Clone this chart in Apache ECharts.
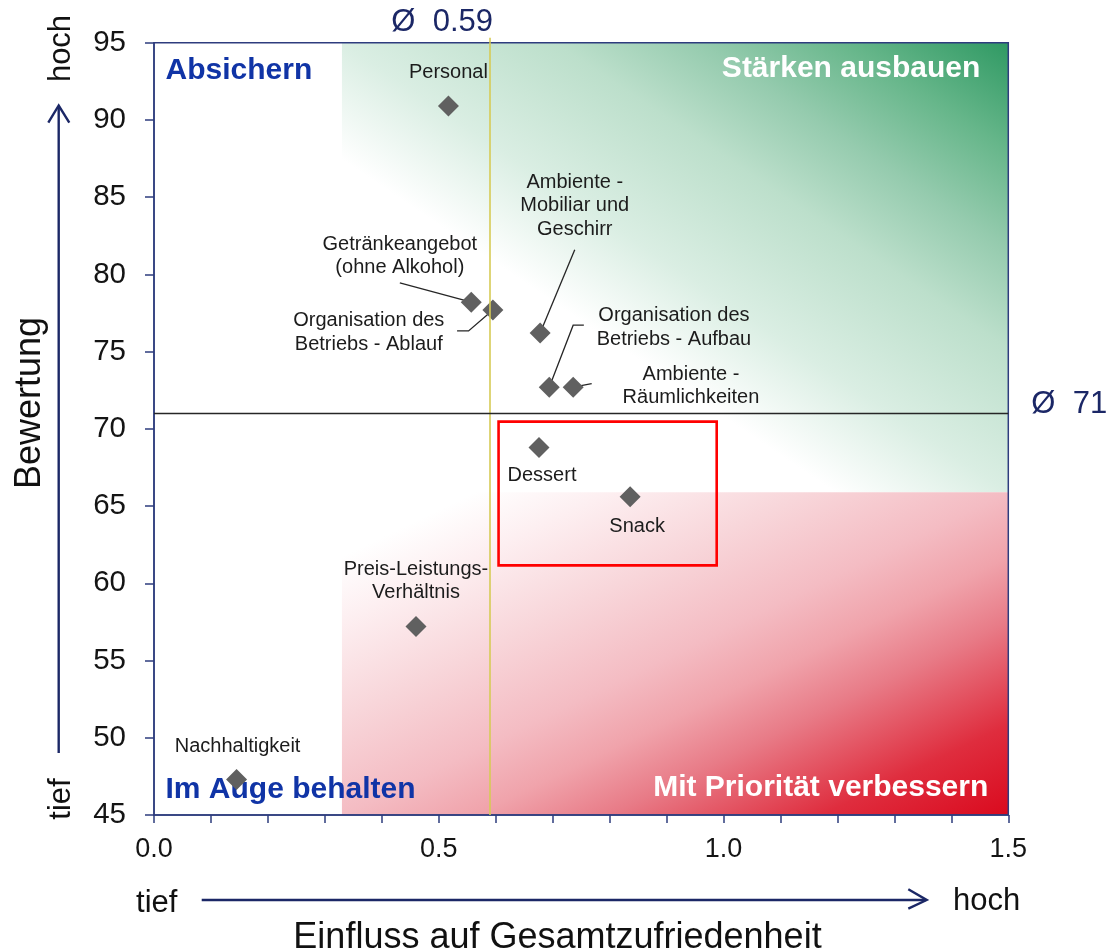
<!DOCTYPE html>
<html>
<head>
<meta charset="utf-8">
<script src="https://cdn.jsdelivr.net/npm/echarts@6/dist/echarts.min.js"></script>
<style>
  html, body { margin: 0; padding: 0; background: #ffffff; }
  #chart { width: 1109px; height: 952px; }
</style>
</head>
<body>
<div id="chart"></div>
<script>
// Portfolio data: influence on overall satisfaction (x) vs. rating (y)
const itemNames = [
  'Personal',
  'Getränkeangebot\n(ohne Alkohol)',
  'Organisation des\nBetriebs - Ablauf',
  'Ambiente -\nMobiliar und\nGeschirr',
  'Organisation des\nBetriebs - Aufbau',
  'Ambiente -\nRäumlichkeiten',
  'Dessert',
  'Snack',
  'Preis-Leistungs-\nVerhältnis',
  'Nachhaltigkeit'
];
const influence = [0.517, 0.557, 0.595, 0.678, 0.694, 0.736, 0.676, 0.836, 0.460, 0.145];
const rating    = [90.9, 78.2, 77.7, 76.2, 72.7, 72.7, 68.8, 65.6, 57.2, 47.3];

const avgInfluence = 0.59;
const avgRating = 71;

const xLabelledTicks = [0.0, 0.5, 1.0, 1.5];
const yTickValues = [45, 50, 55, 60, 65, 70, 75, 80, 85, 90, 95];

const quadrantNames = ['Absichern', 'Stärken ausbauen', 'Im Auge behalten', 'Mit Priorität verbessern'];
const axisTitles = ['Einfluss auf Gesamtzufriedenheit', 'Bewertung'];
const scaleWords = ['tief', 'hoch'];

// shaded zones (data units) and the highlighted group
const zoneXRange = [0.33, 1.5];
const zoneSplit = 65.9;
const focusBox = [[0.605, 70.47], [0.988, 61.16]];

// ---- styling -------------------------------------------------------------
const FONT = '"Liberation Sans", Arial, sans-serif';
const NAVY = '#2E3C7E';
const DARK_NAVY = '#1B2766';
const QUAD_BLUE = '#1034A6';

// label centre relative to its marker, in pixels
const labelOffsets = [
  [0, -33.5], [-71.4, -46.2], [-124.1, 22.7], [34.6, -127.2], [124.7, -59.7],
  [117.8, -1.4], [3, 28.3], [7, 30], [0, -45.6], [1, -32.6]
];
// leader lines relative to the marker, in pixels (null = none)
const leaderLines = [
  null,
  [[-71.4, -19.4], [0, 0]],
  [[-35.8, 21], [-24.3, 21], [0, 0]],
  [[34.6, -83.4], [0, 0]],
  [[34.6, -62], [23.9, -62], [0, 0]],
  [[0, 0], [18.5, -3.5]],
  null, null, null, null
];

const points = itemNames.map((n, i) => ({
  name: n,
  value: [influence[i], rating[i]],
  label: { offset: labelOffsets[i] }
}));

const chart = echarts.init(document.getElementById('chart'), null, { renderer: 'canvas' });

function isHalfStep(v) {
  return Math.abs(v * 2 - Math.round(v * 2)) < 1e-6;
}

const option = {
  animation: false,
  backgroundColor: '#ffffff',
  grid: {
    left: 154, right: 100.7, top: 42.7, bottom: 137,
    show: true, borderColor: NAVY, borderWidth: 1.5, backgroundColor: 'transparent',
    z: 3, outerBoundsMode: 'none'
  },
  xAxis: {
    type: 'value', min: 0, max: 1.5, interval: 0.1, z: 3,
    axisLine: { show: true, lineStyle: { color: NAVY, width: 1.5 } },
    axisTick: { show: true, length: 8, lineStyle: { color: NAVY, width: 1.5 } },
    splitLine: { show: false },
    axisLabel: {
      margin: 21, fontSize: 27, fontFamily: FONT, color: '#141414',
      formatter: v => (isHalfStep(v) && xLabelledTicks.some(t => Math.abs(t - v) < 1e-6)) ? v.toFixed(1) : ''
    }
  },
  yAxis: {
    type: 'value', min: yTickValues[0], max: yTickValues[yTickValues.length - 1], interval: 5, z: 3,
    axisLine: { show: true, lineStyle: { color: NAVY, width: 1.5 } },
    axisTick: { show: true, length: 9, lineStyle: { color: NAVY, width: 1.5 } },
    splitLine: { show: false },
    axisLabel: { margin: 28, fontSize: 29.5, fontFamily: FONT, color: '#141414' }
  },
  series: [{
    type: 'scatter',
    z: 10,
    symbol: 'diamond',
    symbolSize: 21,
    itemStyle: { color: '#606060', opacity: 1 },
    emphasis: { disabled: true },
    label: {
      show: true, position: 'inside', formatter: '{b}',
      color: '#1c1c1c', fontSize: 20, fontFamily: FONT, lineHeight: 23.5,
      align: 'center', verticalAlign: 'middle', textBorderWidth: 0
    },
    data: points,
    markLine: {
      silent: true, symbol: 'none', z: 12, animation: false,
      label: { show: false },
      data: [
        { xAxis: avgInfluence, lineStyle: { color: '#D6CB55', width: 1.6, type: 'solid', opacity: 1 } },
        { yAxis: avgRating, lineStyle: { color: '#262626', width: 1.3, type: 'solid', opacity: 1 } }
      ]
    }
  }]
};

chart.setOption(option);

// ---- zones, annotations and axis decorations, placed through the grid scale ----
const toPx = (x, y) => chart.convertToPixel({ gridIndex: 0 }, [x, y]);

// diagonal gradient whose iso-lines follow the rectangle's diagonal
function diagonalGradient(w, h, fromTopRight, stops) {
  const k = 2 / (h / w + w / h);
  if (fromTopRight) {
    return new echarts.graphic.LinearGradient(1, 0, 1 - k * h / w, k * w / h, stops);
  }
  return new echarts.graphic.LinearGradient(0, 0, k * h / w, k * w / h, stops);
}

const pTopLeft = toPx(zoneXRange[0], 95);
const pSplitRight = toPx(zoneXRange[1], zoneSplit);
const pBottom = toPx(zoneXRange[1], 45);
const zoneW = pSplitRight[0] - pTopLeft[0];
const greenH = pSplitRight[1] - pTopLeft[1];
const redH = pBottom[1] - pSplitRight[1];

const greenFill = diagonalGradient(zoneW, greenH, true, [
  { offset: 0, color: '#2F9963' },
  { offset: 0.12, color: '#66B68A' },
  { offset: 0.23, color: '#95CBAE' },
  { offset: 0.34, color: '#BCDFCB' },
  { offset: 0.5, color: '#DAEEE3' },
  { offset: 0.63, color: '#FFFFFF' },
  { offset: 1, color: '#FFFFFF' }
]);
const redFill = diagonalGradient(zoneW, redH, false, [
  { offset: 0, color: '#FFFFFF' },
  { offset: 0.1, color: '#FFFFFF' },
  { offset: 0.2, color: '#FDEFF1' },
  { offset: 0.35, color: '#F8D6DA' },
  { offset: 0.5, color: '#F4BCC3' },
  { offset: 0.6, color: '#F0A3AB' },
  { offset: 0.7, color: '#E87B87' },
  { offset: 0.86, color: '#DF2D3E' },
  { offset: 1, color: '#DA0A1E' }
]);

const graphics = [];

// leader lines
points.forEach((p, i) => {
  const seg = leaderLines[i];
  if (!seg) return;
  const c = toPx(p.value[0], p.value[1]);
  graphics.push({
    type: 'polyline', z: 5, silent: true,
    shape: { points: seg.map(d => [c[0] + d[0], c[1] + d[1]]) },
    style: { stroke: '#262626', lineWidth: 1.3, fill: null }
  });
});

// average line tops out slightly above the frame
const vTop = toPx(avgInfluence, 95);
graphics.push({
  type: 'line', z: 5, silent: true,
  shape: { x1: vTop[0], y1: vTop[1] - 5, x2: vTop[0], y2: vTop[1] },
  style: { stroke: '#D6CB55', lineWidth: 1.6 }
});

// average value labels
graphics.push({
  type: 'text', z: 6, silent: true, x: vTop[0] + 3, y: vTop[1] - 20.5,
  style: { text: 'Ø  ' + avgInfluence.toFixed(2), fill: DARK_NAVY, font: '31px ' + FONT, align: 'right', verticalAlign: 'middle' }
});
const hRight = toPx(1.5, avgRating);
graphics.push({
  type: 'text', z: 6, silent: true, x: hRight[0] + 23, y: hRight[1] - 8.5,
  style: { text: 'Ø  ' + avgRating, fill: DARK_NAVY, font: '31px ' + FONT, align: 'left', verticalAlign: 'middle' }
});

// quadrant captions
const gTL = toPx(0, 95), gBR = toPx(1.5, 45);
const quadFont = 'bold 30px ' + FONT;
graphics.push(
  { type: 'text', z: 6, silent: true, x: gTL[0] + 11.5, y: gTL[1] + 28,
    style: { text: quadrantNames[0], fill: QUAD_BLUE, font: quadFont, align: 'left', verticalAlign: 'middle' } },
  { type: 'text', z: 6, silent: true, x: gBR[0] - 28, y: gTL[1] + 26,
    style: { text: quadrantNames[1], fill: '#FFFFFF', font: quadFont, align: 'right', verticalAlign: 'middle' } },
  { type: 'text', z: 6, silent: true, x: gTL[0] + 11.5, y: gBR[1] - 25,
    style: { text: quadrantNames[2], fill: QUAD_BLUE, font: quadFont, align: 'left', verticalAlign: 'middle' } },
  { type: 'text', z: 6, silent: true, x: gBR[0] - 20, y: gBR[1] - 27,
    style: { text: quadrantNames[3], fill: '#FFFFFF', font: quadFont, align: 'right', verticalAlign: 'middle' } }
);

// axis titles and low/high arrows
const nameFont = '36px ' + FONT;
const wordFont = '31px ' + FONT;
graphics.push(
  { type: 'text', silent: true, x: 557.5, y: 938,
    style: { text: axisTitles[0], fill: '#111111', font: nameFont, align: 'center', verticalAlign: 'middle' } },
  { type: 'text', silent: true, x: 30, y: 403, rotation: Math.PI / 2,
    style: { text: axisTitles[1], fill: '#111111', font: nameFont, align: 'center', verticalAlign: 'middle' } },
  { type: 'text', silent: true, x: 156.7, y: 903,
    style: { text: scaleWords[0], fill: '#111111', font: wordFont, align: 'center', verticalAlign: 'middle' } },
  { type: 'text', silent: true, x: 986.7, y: 901.5,
    style: { text: scaleWords[1], fill: '#111111', font: wordFont, align: 'center', verticalAlign: 'middle' } },
  { type: 'text', silent: true, x: 61.5, y: 799, rotation: Math.PI / 2,
    style: { text: scaleWords[0], fill: '#111111', font: wordFont, align: 'center', verticalAlign: 'middle' } },
  { type: 'text', silent: true, x: 61.5, y: 48.5, rotation: Math.PI / 2,
    style: { text: scaleWords[1], fill: '#111111', font: wordFont, align: 'center', verticalAlign: 'middle' } },
  { type: 'line', silent: true, shape: { x1: 201.7, y1: 900, x2: 926, y2: 900 },
    style: { stroke: DARK_NAVY, lineWidth: 2.4 } },
  { type: 'polyline', silent: true, shape: { points: [[908.3, 889.3], [926.7, 900], [908.3, 908.7]] },
    style: { stroke: DARK_NAVY, lineWidth: 2.4, fill: null } },
  { type: 'line', silent: true, shape: { x1: 58.7, y1: 753, x2: 58.7, y2: 106 },
    style: { stroke: DARK_NAVY, lineWidth: 2.4 } },
  { type: 'polyline', silent: true, shape: { points: [[48.3, 122.7], [58.7, 105.5], [69.3, 122.7]] },
    style: { stroke: DARK_NAVY, lineWidth: 2.4, fill: null } }
);

chart.setOption({
  series: [{
    markArea: {
      silent: true, z: 1, animation: false,
      label: { show: false },
      data: [
        [{ xAxis: zoneXRange[0], yAxis: 95, itemStyle: { color: greenFill, borderWidth: 0, opacity: 1 } },
         { xAxis: zoneXRange[1], yAxis: zoneSplit }],
        [{ xAxis: zoneXRange[0], yAxis: zoneSplit, itemStyle: { color: redFill, borderWidth: 0, opacity: 1 } },
         { xAxis: zoneXRange[1], yAxis: 45 }],
        [{ xAxis: focusBox[0][0], yAxis: focusBox[0][1],
           itemStyle: { color: 'rgba(0,0,0,0)', borderColor: '#FF0000', borderWidth: 2.6, opacity: 1 } },
         { xAxis: focusBox[1][0], yAxis: focusBox[1][1] }]
      ]
    }
  }],
  graphic: graphics
});
</script>
</body>
</html>
